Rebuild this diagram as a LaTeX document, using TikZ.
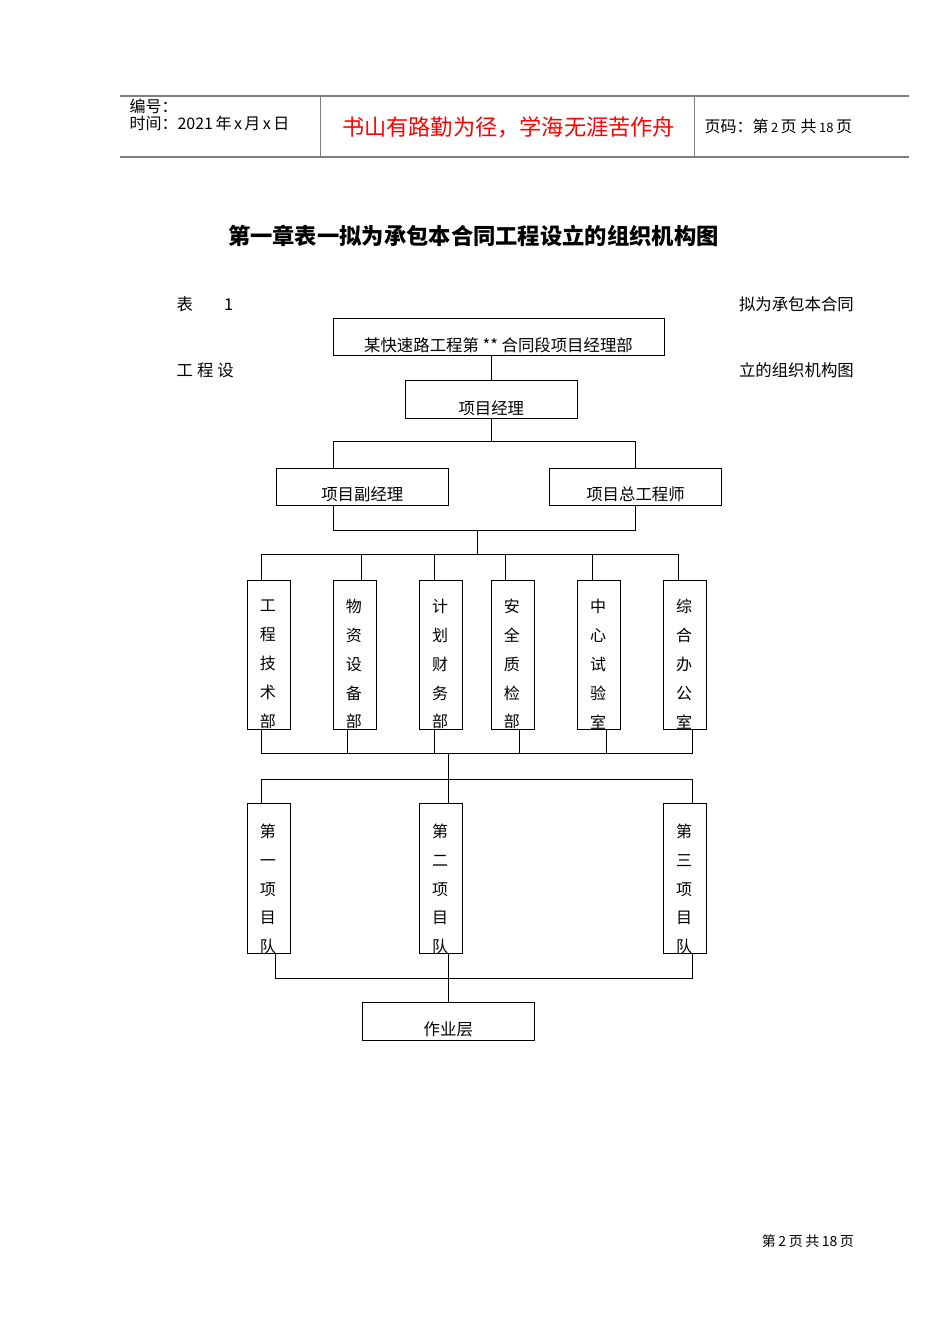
\documentclass[tikz,border=0pt]{standalone}
\usepackage{fontspec}
\setmainfont{Noto Sans CJK SC}
\usetikzlibrary{calc}
\definecolor{hdrgrey}{HTML}{7F7F7F}
\definecolor{hdrred}{HTML}{FF0000}
\tikzset{
  box/.style={draw, line width=0.9pt, inner sep=0pt},
  hbox/.style={box, minimum width=172.5pt, minimum height=37.5pt},
  vbox/.style={box, minimum width=43pt, minimum height=149.5pt},
  conn/.style={line width=0.9pt},
  txt/.style={inner sep=0pt, font=\fontsize{16.4}{20}\selectfont},
  vtxt/.style={inner sep=0pt, align=center, font=\fontsize{16}{28.8}\selectfont},
  hdr/.style={inner sep=0pt, font=\fontsize{16}{18}\selectfont},
  hline/.style={draw=hdrgrey, line width=1.2pt},
}
\begin{document}
\begin{tikzpicture}[x=1pt,y=-1pt]
\useasboundingbox (0,0) rectangle (950,1344);
% ---------- header ----------
\coordinate (h1) at (120,96);
\coordinate (h2) at (909.3,96);
\coordinate (h3) at (120,156.7);
\coordinate (h4) at (909.3,156.7);
\draw[hline] (h1) -- (h2);
\draw[hline, line width=2pt] (h3) -- (h4);
\draw[hline] (320.7,96) coordinate (v1) -- (320.7,156.7) coordinate (v2);
\draw[hline] (694.3,96) coordinate (v3) -- (694.3,156.7) coordinate (v4);
\node[hdr, anchor=west] (bh) at (129.3,106) {编号：};
\node[hdr, anchor=west] (sj) at (129.3,123.5) {时间：2021\hspace{2.5pt}年\hspace{2.5pt}x\hspace{2.5pt}月\hspace{2.5pt}x\hspace{2.5pt}日};
\node[inner sep=0pt, text=hdrred, font=\fontsize{22.2}{26}\selectfont] (motto) at (508.5,127) {书山有路勤为径，学海无涯苦作舟};
\node[hdr, anchor=west] (ym) at (704.3,126.7) {页码：第\hspace{2.5pt}{\fontsize{13}{15}\selectfont 2}\hspace{2.5pt}页\hspace{4pt}共\hspace{2.5pt}{\fontsize{13}{15}\selectfont 18}\hspace{2.5pt}页};
% ---------- title ----------
\node[inner sep=0pt, font=\fontsize{22.3}{26}\selectfont\bfseries] (title) at (473.3,236) {第一章表一拟为承包本合同工程设立的组织机构图};
\node[txt, anchor=west] (biao) at (176.5,304) {表\hspace{31pt}1};
\node[txt, anchor=east] (r1) at (854,304) {拟为承包本合同};
\node[txt, anchor=west] (gcs) at (176.5,370) {工\hspace{4pt}程\hspace{4pt}设};
\node[txt, anchor=east] (r2) at (854,370) {立的组织机构图};
% ---------- boxes ----------
\node[box, minimum width=330.7pt, minimum height=36.7pt] (top) at (498.7,336.7) {};
\node[txt] at (498.5,345) {某快速路工程第 ** 合同段项目经理部};
\node[hbox] (pm) at (491.3,399.3) {};
\node[txt] at (491.3,408) {项目经理};
\node[hbox] (dpm) at (362.3,486.7) {};
\node[txt] at (362.3,494) {项目副经理};
\node[hbox] (ce) at (635.2,486.7) {};
\node[txt] at (635.5,494) {项目总工程师};
% departments
\foreach \n/\x/\t in {d1/268.8/{工\\程\\技\\术\\部},
                      d2/354.8/{物\\资\\设\\备\\部},
                      d3/441.2/{计\\划\\财\\务\\部},
                      d4/512.8/{安\\全\\质\\检\\部},
                      d5/599.2/{中\\心\\试\\验\\室},
                      d6/685.2/{综\\合\\办\\公\\室}}{
  \node[vbox] (\n) at (\x,654.7) {};
  \node[vtxt] at (\x-1,664.2) {\t};
}
% teams
\foreach \n/\x/\t in {t1/268.8/{第\\一\\项\\目\\队},
                      t2/441.2/{第\\二\\项\\目\\队},
                      t3/685.2/{第\\三\\项\\目\\队}}{
  \node[vbox, minimum height=150pt] (\n) at (\x,878.3) {};
  \node[vtxt] at (\x-1,888.9) {\t};
}
\node[box, minimum width=172pt, minimum height=37.3pt] (work) at (448.3,1021.3) {};
\node[txt] at (448.3,1029.3) {作业层};
% ---------- connectors ----------
\draw[conn] (top.south -| pm.north) -- (pm.north);
\coordinate (b1) at (333.3,441.7);
\coordinate (b2) at (635.7,441.7);
\draw[conn] (pm.south) -- (pm.south |- b1);
\draw[conn] (b1 |- dpm.north) -- (b1) -- (b2) -- (b2 |- ce.north);
\coordinate (c1) at (333.3,530);
\coordinate (c2) at (635.7,530);
\coordinate (cm) at (477.3,530);
\coordinate (dm) at (477.3,554.3);
\draw[conn] (c1 |- dpm.south) -- (c1) -- (c2) -- (c2 |- ce.south);
\draw[conn] (cm) -- (dm);
\foreach \n/\s in {d1/-7,d2/7,d3/-7,d4/-7,d5/-7,d6/-7}{
  \draw[conn] ([xshift=\s pt]\n.north) |- (dm);
}
\coordinate (e) at (448.3,753.7);
\coordinate (f) at (448.3,779.3);
\foreach \n/\s in {d1/-7,d2/-7,d3/-7,d4/7,d5/7,d6/7}{
  \draw[conn] ([xshift=\s pt]\n.south) |- (e);
}
\draw[conn] (e) -- (f);
\foreach \n/\s in {t1/-7,t2/7,t3/7}{
  \draw[conn] ([xshift=\s pt]\n.north) |- (f);
}
\coordinate (g) at (448.3,978);
\foreach \n in {t1,t2,t3}{
  \draw[conn] ([xshift=7pt]\n.south) |- (g);
}
\draw[conn] (g) -- (work.north);
% ---------- footer ----------
\node[inner sep=0pt, anchor=east, font=\fontsize{14}{16}\selectfont] (foot) at (854,1241) {第\hspace{2.5pt}2\hspace{2.5pt}页\hspace{2.5pt}共\hspace{2.5pt}18\hspace{2.5pt}页};
\end{tikzpicture}
\end{document}
